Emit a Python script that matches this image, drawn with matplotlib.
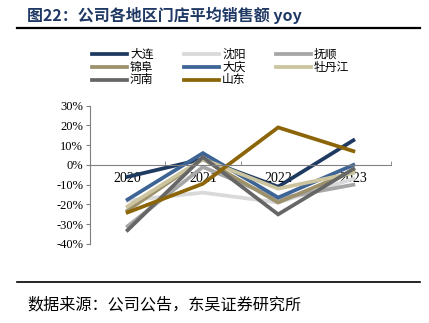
import matplotlib.pyplot as plt
from matplotlib.lines import Line2D
from matplotlib.ticker import FixedLocator

plt.rcParams['font.family'] = ['Liberation Serif', 'Noto Sans CJK SC', 'DejaVu Sans']

years = ['2020', '2021', '2022', '2023']
regions = ['大连', '沈阳', '抚顺', '锦阜', '大庆', '牡丹江', '河南', '山东']
dalian = [-6, 3, -11, 12.5]
shenyang = [-18, -14, -19, -7]
fushun = [-31, -1, -17, -10]
jinfu = [-23, 3, -19, -3]
daqing = [-17.5, 6, -16.5, 0]
mudanjiang = [-21, 3, -12, -4]
henan = [-33, 4, -25, -2]
shandong = [-24, -9.5, 19, 7]
colors = ['#1F3A60', '#D9D9D9', '#A6A6A6', '#9C916B',
          '#3D6494', '#CBC49E', '#666666', '#8B6508']

series = [dalian, shenyang, fushun, jinfu, daqing, mudanjiang, henan, shandong]

W, H = 429, 323
fig = plt.figure(figsize=(W / 100, H / 100), dpi=100)
ax = fig.add_axes([90 / W, 79 / H, 301 / W, 138.3 / H])

x = range(len(years))
for name, vals, c in zip(regions, series, colors):
    ax.plot(x, vals, color=c, lw=2.7, solid_joinstyle='miter', label=name)

ax.set_xlim(-0.5, 3.5)
ax.set_ylim(-40, 30)
ax.set_yticks(range(-40, 31, 10))
ax.set_yticklabels([f'{v}%' for v in range(-40, 31, 10)], fontsize=9)
ax.set_xticks(list(x))
ax.set_xticklabels(years, fontsize=9)
ax.xaxis.set_minor_locator(FixedLocator([0.5, 1.5, 2.5, 3.5]))
ax.tick_params(axis='x', which='major', length=0, pad=5)
ax.tick_params(axis='x', which='minor', direction='in', length=3, color='#808080')
ax.tick_params(axis='y', length=3, color='#808080', pad=2)

for s in ['top', 'right']:
    ax.spines[s].set_visible(False)
ax.spines['bottom'].set_position(('data', 0))
ax.spines['bottom'].set_color('#808080')
ax.spines['left'].set_color('#808080')

# legend, 3 columns row by row
col_x = [92, 184, 276]
row_y = [54, 67, 80]
for i, (name, c) in enumerate(zip(regions, colors)):
    lx = col_x[i % 3]
    ly = 1 - row_y[i // 3] / H
    fig.add_artist(Line2D([lx / W, (lx + 35) / W], [ly, ly], color=c, lw=2.7))
    fig.text((lx + 38) / W, ly, name, fontsize=8.5, va='center',
             family=['Noto Sans CJK SC'])

fig.text(27 / W, 1 - 15 / H, '图22：公司各地区门店平均销售额 yoy', fontsize=11.5,
         fontweight='bold', color='#1F3864', va='center',
         family=['Noto Sans CJK SC', 'DejaVu Sans'])
fig.add_artist(Line2D([17 / W, 420 / W], [1 - 28 / H, 1 - 28 / H],
                      color='black', lw=1.6))
fig.add_artist(Line2D([17 / W, 420 / W], [1 - 282 / H, 1 - 282 / H],
                      color='black', lw=1.2))
fig.text(27 / W, 1 - 305 / H, '数据来源：公司公告，东吴证券研究所', fontsize=11.6,
         va='center', family=['Noto Sans CJK SC', 'DejaVu Sans'])

fig.savefig('out.png', dpi=100)
